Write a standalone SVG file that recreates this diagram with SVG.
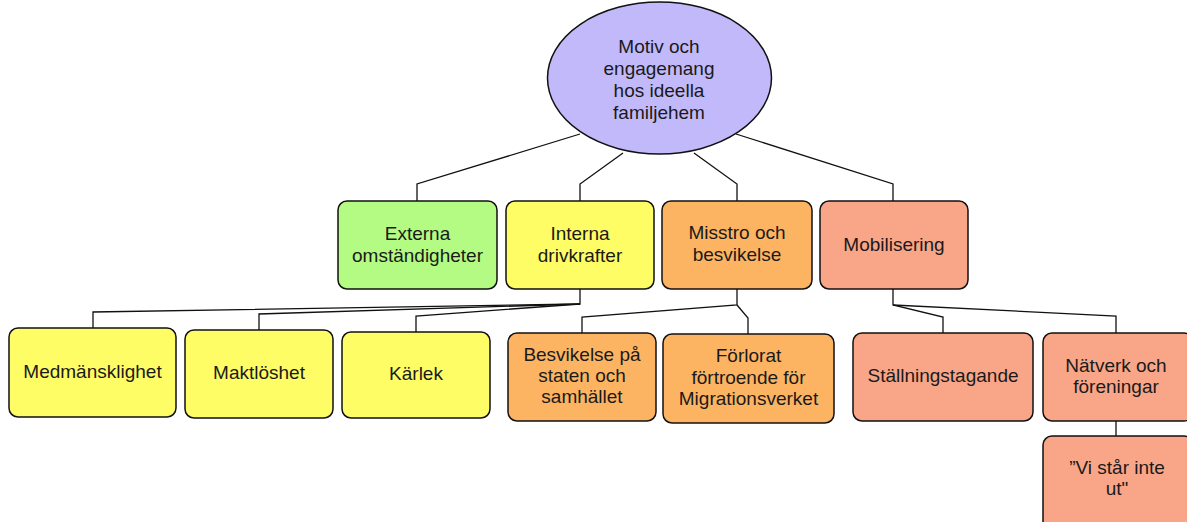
<svg xmlns="http://www.w3.org/2000/svg" width="1187" height="522" viewBox="0 0 1187 522">
<style>
text{font-family:"Liberation Sans",Arial,sans-serif;font-size:19px;fill:#1a1a1a;text-anchor:middle}
.n{stroke:#111;stroke-width:1.5}
.c{fill:none;stroke:#111;stroke-width:1.3}
.g{fill:#b3fb82}.y{fill:#fffd66}.o{fill:#fdb462}.s{fill:#f9a688}
</style>
<rect width="1187" height="522" fill="#fff"/>
<g id="connectors">
<polyline class="c" points="580,134 417,184 417,201"/>
<polyline class="c" points="623,153 580,184 580,201"/>
<polyline class="c" points="694,153 737,184 737,201"/>
<polyline class="c" points="736,134 893,184 893,201"/>
<polyline class="c" points="580,289 580,304 93,312 93,328"/>
<polyline class="c" points="580,304 259,314 259,330"/>
<polyline class="c" points="580,304 416,316 416,332"/>
<polyline class="c" points="737,289 737,305 582,317 582,333"/>
<polyline class="c" points="737,305 748,318 748,334"/>
<polyline class="c" points="893,289 893,305 943,317 943,333"/>
<polyline class="c" points="893,305 1116,316 1116,333"/>
<polyline class="c" points="1116,421 1116,436"/>
</g>
<g id="root">
<ellipse class="n" cx="659.5" cy="78" rx="112" ry="76" fill="#c2b9fb"/>
<text x="659" y="53">Motiv och</text>
<text x="659" y="75">engagemang</text>
<text x="659" y="97">hos ideella</text>
<text x="659" y="119">familjehem</text>
</g>
<g id="externa">
<rect class="n g" x="338" y="201" width="159" height="88" rx="9"/>
<text x="417.5" y="240">Externa</text>
<text x="417.5" y="262">omständigheter</text>
</g>
<g id="interna">
<rect class="n y" x="506" y="201" width="148" height="88" rx="9"/>
<text x="580" y="240">Interna</text>
<text x="580" y="262">drivkrafter</text>
</g>
<g id="misstro">
<rect class="n o" x="662" y="201" width="150" height="88" rx="9"/>
<text x="737" y="239">Misstro och</text>
<text x="737" y="261">besvikelse</text>
</g>
<g id="mobilisering">
<rect class="n s" x="820" y="201" width="148" height="88" rx="9"/>
<text x="894" y="251">Mobilisering</text>
</g>
<g id="medmansklighet">
<rect class="n y" x="9" y="328" width="167" height="89" rx="9"/>
<text x="92.5" y="378">Medmänsklighet</text>
</g>
<g id="maktloshet">
<rect class="n y" x="185" y="330" width="148" height="88" rx="9"/>
<text x="259" y="379">Maktlöshet</text>
</g>
<g id="karlek">
<rect class="n y" x="342" y="332" width="148" height="86" rx="9"/>
<text x="416" y="380">Kärlek</text>
</g>
<g id="besvikelse">
<rect class="n o" x="508" y="333" width="148" height="88" rx="9"/>
<text x="582" y="361">Besvikelse på</text>
<text x="582" y="382">staten och</text>
<text x="582" y="403">samhället</text>
</g>
<g id="forlorat">
<rect class="n o" x="663" y="334" width="171" height="89" rx="9"/>
<text x="748.5" y="362">Förlorat</text>
<text x="748.5" y="384">förtroende för</text>
<text x="748.5" y="405">Migrationsverket</text>
</g>
<g id="stallningstagande">
<rect class="n s" x="853" y="333" width="180" height="88" rx="9"/>
<text x="943" y="382">Ställningstagande</text>
</g>
<g id="natverk">
<rect class="n s" x="1043" y="333" width="150" height="88" rx="9"/>
<text x="1116" y="372">Nätverk och</text>
<text x="1116" y="393">föreningar</text>
</g>
<g id="vi-star">
<rect class="n s" x="1043" y="436" width="150" height="95" rx="9"/>
<text x="1117" y="474">”Vi står inte</text>
<text x="1117" y="495">ut"</text>
</g>
</svg>
